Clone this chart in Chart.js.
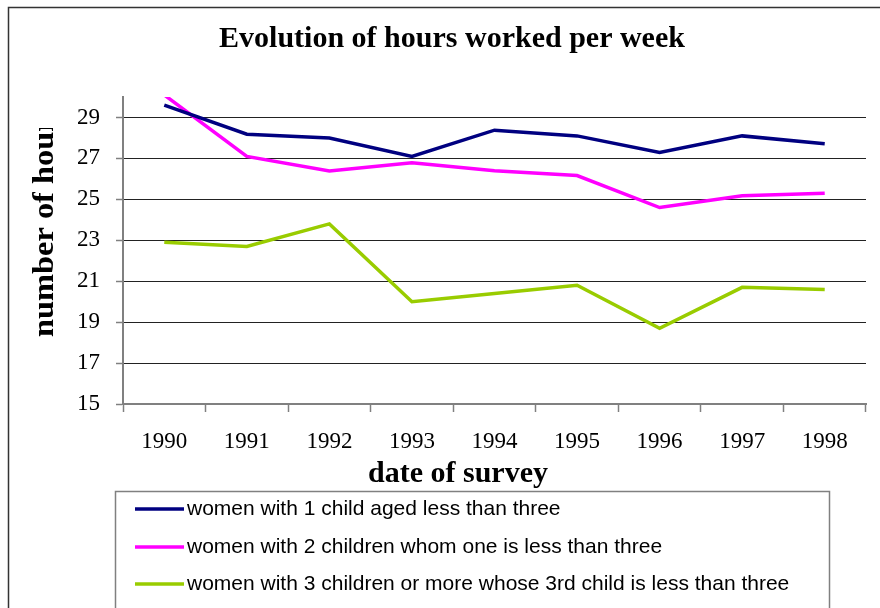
<!DOCTYPE html>
<html>
<head>
<meta charset="utf-8">
<title>Evolution of hours worked per week</title>
<script src="https://cdn.jsdelivr.net/npm/chart.js@4.4.1/dist/chart.umd.min.js"></script>
<style>
  html, body { margin: 0; padding: 0; background: #fff; }
  canvas { display: block; }
</style>
</head>
<body>
<canvas id="chart" width="880" height="608"></canvas>
<script>
const years = ['1990', '1991', '1992', '1993', '1994', '1995', '1996', '1997', '1998'];
const oneChild = [29.6, 28.18, 28.0, 27.1, 28.38, 28.1, 27.29, 28.1, 27.72];
const twoChildren = [30.1, 27.1, 26.38, 26.79, 26.4, 26.16, 24.6, 25.17, 25.3];
const threeChildren = [22.9, 22.7, 23.8, 20.0, 20.4, 20.8, 18.7, 20.7, 20.6];
const seriesLabels = [
  'women with 1 child aged less than three',
  'women with 2 children whom one is less than three',
  'women with 3 children or more whose 3rd child is less than three'
];
const yTicks = [15, 17, 19, 21, 23, 25, 27, 29];

const chartTitle = 'Evolution of hours worked per week';
const xTitle = 'date of survey';
const yTitle = 'number of hours';

const SERIF = "'Liberation Serif', 'Times New Roman', serif";
const SANS = "'Liberation Sans', Arial, sans-serif";

// titles, outer frame and the boxed legend are drawn by hand
const decorPlugin = {
  id: 'decor',
  afterDraw(chart) {
    const ctx = chart.ctx;
    ctx.save();

    // outer frame (right and bottom edges fall outside the picture)
    ctx.strokeStyle = '#333';
    ctx.lineWidth = 1.5;
    ctx.strokeRect(8.5, 7.5, 900, 700);

    ctx.fillStyle = '#000';
    ctx.textAlign = 'center';
    ctx.textBaseline = 'alphabetic';
    ctx.font = 'bold 30px ' + SERIF;
    ctx.fillText(chartTitle, 452, 47);
    ctx.fillText(xTitle, 458, 482);

    // y title, cut off at the top like the original
    ctx.save();
    ctx.beginPath();
    ctx.rect(0, 128, 120, 300);
    ctx.clip();
    ctx.translate(53, 337);
    ctx.rotate(-Math.PI / 2);
    ctx.scale(1.2, 1.1);
    ctx.font = 'bold 27px ' + SERIF;
    ctx.textAlign = 'left';
    ctx.fillText(yTitle, 0, 0);
    ctx.restore();

    // legend box
    ctx.strokeStyle = '#808080';
    ctx.lineWidth = 1.5;
    ctx.strokeRect(115.5, 491.5, 714, 200);
    const rows = [509, 547, 584];
    ctx.font = '21px ' + SANS;
    ctx.textAlign = 'left';
    ctx.textBaseline = 'middle';
    chart.data.datasets.forEach((ds, i) => {
      ctx.strokeStyle = ds.borderColor;
      ctx.lineWidth = 3.5;
      ctx.beginPath();
      ctx.moveTo(135, rows[i]);
      ctx.lineTo(184, rows[i]);
      ctx.stroke();
      ctx.fillStyle = '#000';
      ctx.fillText(ds.label, 187, rows[i]);
    });

    ctx.restore();
  }
};

new Chart(document.getElementById('chart'), {
  type: 'line',
  data: {
    labels: years,
    datasets: [
      { label: seriesLabels[0], data: oneChild, borderColor: '#000080' },
      { label: seriesLabels[1], data: twoChildren, borderColor: '#FF00FF' },
      { label: seriesLabels[2], data: threeChildren, borderColor: '#99CC00' }
    ].map(ds => Object.assign(ds, { borderWidth: 3.5, pointRadius: 0, tension: 0, fill: false }))
  },
  options: {
    responsive: false,
    animation: false,
    events: [],
    layout: { padding: { left: 0, top: 97, right: 14, bottom: 144 } },
    plugins: {
      legend: { display: false },
      title: { display: false },
      tooltip: { enabled: false }
    },
    scales: {
      x: {
        type: 'category',
        offset: true,
        afterFit: scale => { scale.height = 60; },
        grid: {
          offset: true,
          drawOnChartArea: false,
          tickLength: 8,
          tickColor: '#808080',
          tickWidth: 1.5
        },
        border: { color: '#808080', width: 2 },
        ticks: {
          color: '#000',
          padding: 16,
          maxRotation: 0,
          font: { family: SERIF, size: 23 }
        }
      },
      y: {
        min: 15,
        max: 30,
        afterFit: scale => { scale.width = 123; },
        afterBuildTicks: scale => { scale.ticks = yTicks.map(v => ({ value: v })); },
        grid: {
          color: c => (c.tick && c.tick.value === 15) ? 'rgba(0,0,0,0)' : '#222',
          lineWidth: 1,
          tickLength: 7,
          tickColor: '#808080',
          tickWidth: 1.5
        },
        border: { color: '#808080', width: 2 },
        ticks: {
          color: '#000',
          padding: 16,
          font: { family: SERIF, size: 23 }
        }
      }
    }
  },
  plugins: [decorPlugin]
});
</script>
</body>
</html>
